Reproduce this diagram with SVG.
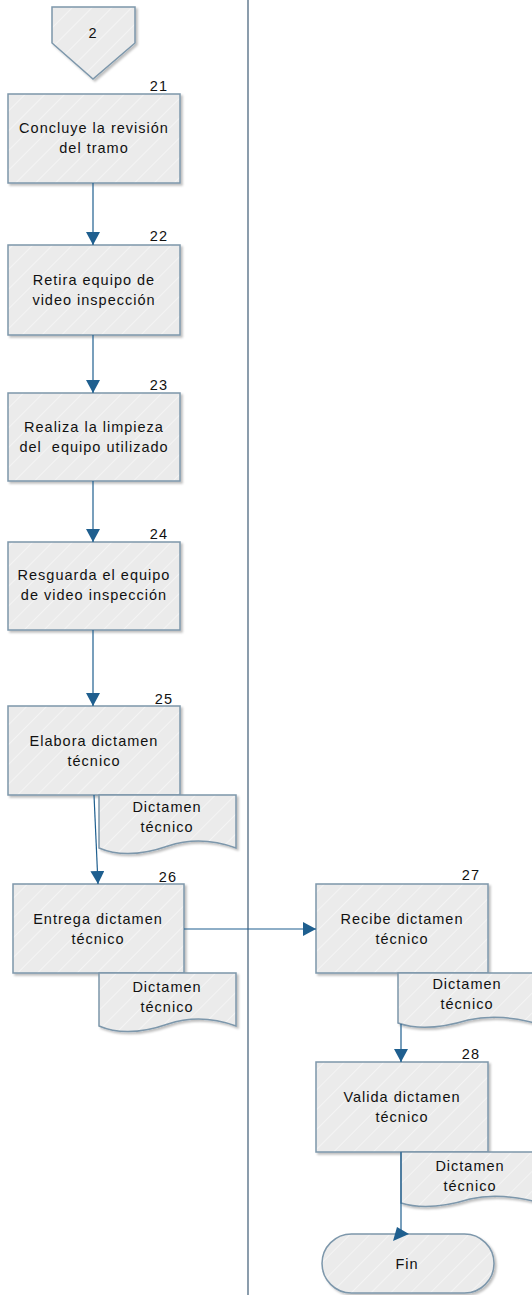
<svg xmlns="http://www.w3.org/2000/svg" width="532" height="1295" viewBox="0 0 532 1295">
<style>
.shape{fill:url(#hatch);stroke:#7d97ab;stroke-width:1.5;filter:url(#sh)}
.t{font-family:"Liberation Sans",Arial,sans-serif;font-size:14.5px;fill:#111;text-anchor:middle;letter-spacing:1px}
.n{font-family:"Liberation Sans",Arial,sans-serif;font-size:14.5px;fill:#111;text-anchor:end;letter-spacing:1px}
.c{stroke:#1f5f8f;stroke-width:1.2;fill:none}
</style>
<defs>
<pattern id="hatch" patternUnits="userSpaceOnUse" width="14" height="14" patternTransform="rotate(45)">
<rect width="14" height="14" fill="#ebebeb"/>
<line x1="0" y1="0" x2="0" y2="14" stroke="#f4f4f4" stroke-width="2"/>
</pattern>
<filter id="sh" x="-10%" y="-10%" width="130%" height="130%">
<feDropShadow dx="2" dy="2" stdDeviation="1.2" flood-color="#000" flood-opacity="0.25"/>
</filter>
<marker id="ah" markerWidth="14" markerHeight="14" refX="13" refY="7" orient="auto" markerUnits="userSpaceOnUse">
<path d="M0,0 L13,7 L0,14 Z" fill="#1f5f8f"/>
</marker>
</defs>
<line x1="248" y1="0" x2="248" y2="1295" stroke="#6f8598" stroke-width="1.6"/>
<g id="off2">
<path class="shape" d="M52,7 H135 V43 L93,79 L52,43 Z"/>
<text class="t" x="93" y="38">2</text>
</g>
<g id="n21">
<rect class="shape" x="8" y="94" width="172" height="89"/>
<text class="n" x="168" y="91">21</text>
<text class="t" x="94" y="133">Concluye la revisión</text>
<text class="t" x="94" y="153">del tramo</text>
</g>
<g id="n22">
<rect class="shape" x="8" y="245" width="172" height="90"/>
<text class="n" x="168" y="241">22</text>
<text class="t" x="94" y="285">Retira equipo de</text>
<text class="t" x="94" y="305">video inspección</text>
</g>
<g id="n23">
<rect class="shape" x="8" y="393" width="172" height="88"/>
<text class="n" x="168" y="390">23</text>
<text class="t" x="94" y="432">Realiza la limpieza</text>
<text class="t" x="94" y="452" xml:space="preserve">del  equipo utilizado</text>
</g>
<g id="n24">
<rect class="shape" x="8" y="542" width="172" height="88"/>
<text class="n" x="168" y="539">24</text>
<text class="t" x="94" y="580">Resguarda el equipo</text>
<text class="t" x="94" y="600">de video inspección</text>
</g>
<g id="n25">
<rect class="shape" x="8" y="706" width="172" height="89"/>
<text class="n" x="173" y="704">25</text>
<text class="t" x="94" y="746">Elabora dictamen</text>
<text class="t" x="94" y="766">técnico</text>
</g>
<g id="d25">
<path class="shape" d="M99,795 H236 V848 C214,840 192,838 168,846 C145,854 120,857 99,848 Z"/>
<text class="t" x="167" y="812">Dictamen</text>
<text class="t" x="167" y="832">técnico</text>
</g>
<g id="n26">
<rect class="shape" x="13" y="884" width="171" height="89"/>
<text class="n" x="177" y="882">26</text>
<text class="t" x="98" y="924">Entrega dictamen</text>
<text class="t" x="98" y="944">técnico</text>
</g>
<g id="d26">
<path class="shape" d="M99,973 H236 V1026 C214,1018 192,1016 168,1024 C145,1032 120,1035 99,1026 Z"/>
<text class="t" x="167" y="992">Dictamen</text>
<text class="t" x="167" y="1012">técnico</text>
</g>
<g id="n27">
<rect class="shape" x="316" y="884" width="172" height="89"/>
<text class="n" x="480" y="880">27</text>
<text class="t" x="402" y="924">Recibe dictamen</text>
<text class="t" x="402" y="944">técnico</text>
</g>
<g id="d27">
<path class="shape" d="M398,973 H545 V1026 C520,1018 495,1014 468,1020 C445,1027 420,1031 398,1023 Z"/>
<text class="t" x="467" y="989">Dictamen</text>
<text class="t" x="467" y="1009">técnico</text>
</g>
<g id="n28">
<rect class="shape" x="316" y="1062" width="172" height="90"/>
<text class="n" x="480" y="1059">28</text>
<text class="t" x="402" y="1102">Valida dictamen</text>
<text class="t" x="402" y="1122">técnico</text>
</g>
<g id="d28">
<path class="shape" d="M401,1152 H545 V1204 C520,1197 495,1193 470,1199 C447,1206 423,1210 401,1203 Z"/>
<text class="t" x="470" y="1171">Dictamen</text>
<text class="t" x="470" y="1191">técnico</text>
</g>
<g id="fin">
<rect class="shape" x="322" y="1234" width="172" height="59" rx="29.5" ry="29.5"/>
<text class="t" x="407" y="1269">Fin</text>
</g>
<g id="connectors">
<line class="c" x1="93" y1="183" x2="93" y2="245" marker-end="url(#ah)"/>
<line class="c" x1="93" y1="335" x2="93" y2="393" marker-end="url(#ah)"/>
<line class="c" x1="93" y1="481" x2="93" y2="542" marker-end="url(#ah)"/>
<line class="c" x1="93" y1="630" x2="93" y2="706" marker-end="url(#ah)"/>
<line class="c" x1="94" y1="795" x2="98" y2="884" marker-end="url(#ah)"/>
<line class="c" x1="184" y1="929" x2="316" y2="929" marker-end="url(#ah)"/>
<line class="c" x1="401" y1="1024" x2="401" y2="1062" marker-end="url(#ah)"/>
<line class="c" x1="401" y1="1152" x2="401" y2="1234"/>
<path d="M393,1241 L397,1227 L409,1234 Z" fill="#1f5f8f"/>
</g>
</svg>
